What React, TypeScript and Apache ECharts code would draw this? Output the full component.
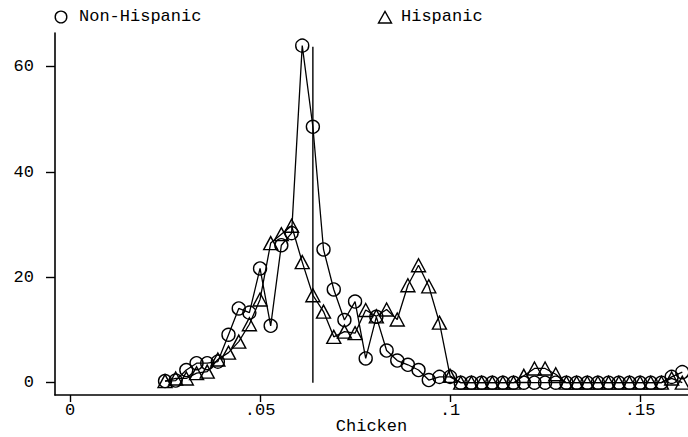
import React, { useEffect, useRef } from "react";
import * as echarts from "echarts";

// Chicken share (x) values shared by both series
const xValues: number[] = [
  0.025, 0.0278, 0.0306, 0.0333, 0.0361, 0.0389, 0.0417, 0.0444, 0.0472, 0.05,
  0.0528, 0.0556, 0.0583, 0.0611, 0.0639, 0.0667, 0.0694, 0.0722, 0.075, 0.0778,
  0.0806, 0.0833, 0.0861, 0.0889, 0.0917, 0.0944, 0.0972, 0.1, 0.1028, 0.1056,
  0.1083, 0.1111, 0.1139, 0.1167, 0.1194, 0.1222, 0.125, 0.1278, 0.1306, 0.1333,
  0.1361, 0.1389, 0.1417, 0.1444, 0.1472, 0.15, 0.1528, 0.1556, 0.1583, 0.1611,
];

const nonHispanic: number[] = [
  0.3, 0.4, 2.4, 3.7, 3.7, 4.0, 9.1, 14.1, 13.3, 21.7,
  10.8, 26.1, 28.4, 64.0, 48.6, 25.3, 17.7, 11.9, 15.4, 4.6,
  12.5, 6.1, 4.2, 3.4, 2.4, 0.5, 1.1, 1.1, 0, 0,
  0, 0, 0, 0, 0, 0, 0, 0, 0, 0,
  0, 0, 0, 0, 0, 0, 0, 0, 1.1, 2.0,
];

const hispanic: number[] = [
  0.3, 0.8, 0.8, 1.8, 2.1, 4.4, 5.7, 7.8, 11.1, 15.8,
  26.5, 28.2, 29.8, 22.9, 16.6, 13.5, 8.7, 9.7, 9.4, 13.8,
  12.6, 13.9, 12.0, 18.5, 22.3, 18.3, 11.4, 1.3, 0, 0,
  0, 0, 0, 0, 1.3, 2.7, 2.7, 1.6, 0, 0,
  0, 0, 0, 0, 0, 0, 0, 0, 0.8, 0,
];

// reference vertical line
const vlineX = 0.0639;
const vlineTop = 63.8;

const xTickValues: number[] = [0, 0.05, 0.1, 0.15];
const xTickLabels: string[] = ["0", ".05", ".1", ".15"];
const yTickValues: number[] = [0, 20, 40, 60];
const yTickLabels: string[] = ["0", "20", "40", "60"];

const seriesNames: string[] = ["Non-Hispanic", "Hispanic"];

const FONT = "'Liberation Mono', 'DejaVu Sans Mono', monospace";

export default function App() {
  const ref = useRef<HTMLDivElement>(null);

  useEffect(() => {
    if (!ref.current) return;
    const chart = echarts.init(ref.current, undefined, { renderer: "svg" });

    const markerStyle = {
      color: "rgba(0,0,0,0)",
      borderColor: "#000",
      borderWidth: 1.4,
    };

    chart.setOption({
      animation: false,
      backgroundColor: "#fff",
      grid: {
        left: 55,
        top: 33,
        right: 0,
        bottom: 42,
        containLabel: false,
        outerBoundsMode: "none",
      },
      xAxis: {
        type: "value",
        min: -0.00395,
        max: 0.1626,
        name: "Chicken",
        nameLocation: "middle",
        nameGap: 31,
        nameMoveOverlap: false,
        nameTextStyle: {
          fontFamily: FONT,
          fontSize: 17,
          lineHeight: 14,
          color: "#000",
          verticalAlign: "middle",
        },
        axisLine: { onZero: false, lineStyle: { color: "#000", width: 1.6 } },
        axisTick: {
          customValues: xTickValues,
          length: 7,
          lineStyle: { color: "#000", width: 1.4 },
        },
        axisLabel: {
          customValues: xTickValues,
          margin: 7,
          fontFamily: FONT,
          fontSize: 17,
          color: "#000",
          formatter: (v: number) => {
            const i = xTickValues.findIndex((t) => Math.abs(t - v) < 1e-9);
            return i >= 0 ? xTickLabels[i] : "";
          },
        },
        splitLine: { show: false },
      },
      yAxis: {
        type: "value",
        min: -2.34,
        max: 66.4,
        axisLine: { show: true, onZero: false, lineStyle: { color: "#000", width: 1.6 } },
        axisTick: {
          show: true,
          customValues: yTickValues,
          length: 9,
          lineStyle: { color: "#000", width: 1.4 },
        },
        axisLabel: {
          customValues: yTickValues,
          margin: 21,
          fontFamily: FONT,
          fontSize: 17,
          color: "#000",
          formatter: (v: number) => {
            const i = yTickValues.findIndex((t) => Math.abs(t - v) < 1e-9);
            return i >= 0 ? yTickLabels[i] : "";
          },
        },
        splitLine: { show: false },
      },
      series: [
        {
          name: seriesNames[0],
          type: "line",
          data: xValues.map((x, i) => [x, nonHispanic[i]]),
          symbol: "circle",
          symbolSize: 13,
          showAllSymbol: true,
          lineStyle: { color: "#000", width: 1.3 },
          itemStyle: markerStyle,
          z: 3,
        },
        {
          name: seriesNames[1],
          type: "line",
          data: xValues.map((x, i) => [x, hispanic[i]]),
          symbol: "triangle",
          symbolSize: [14, 13],
          showAllSymbol: true,
          lineStyle: { color: "#000", width: 1.3 },
          itemStyle: markerStyle,
          z: 2,
        },
        {
          name: "ref",
          type: "line",
          data: [
            [vlineX, 0],
            [vlineX, vlineTop],
          ],
          symbol: "none",
          lineStyle: { color: "#000", width: 1.4 },
          z: 4,
        },
      ],
      graphic: [
        {
          type: "circle",
          shape: { cx: 61, cy: 17, r: 5.8 },
          style: { fill: "none", stroke: "#000", lineWidth: 1.4 },
        },
        {
          type: "text",
          x: 79,
          y: 16,
          style: {
            text: seriesNames[0],
            font: `17px ${FONT}`,
            fill: "#000",
            verticalAlign: "middle",
            align: "left",
          },
        },
        {
          type: "polygon",
          shape: {
            points: [
              [378.5, 23],
              [391.5, 23],
              [385, 11.5],
            ],
          },
          style: { fill: "none", stroke: "#000", lineWidth: 1.4 },
        },
        {
          type: "text",
          x: 401,
          y: 16,
          style: {
            text: seriesNames[1],
            font: `17px ${FONT}`,
            fill: "#000",
            verticalAlign: "middle",
            align: "left",
          },
        },
      ],
    });

    return () => chart.dispose();
  }, []);

  return (
    <div
      ref={ref}
      style={{ position: "fixed", left: 0, top: 0, width: 688, height: 437 }}
    />
  );
}
